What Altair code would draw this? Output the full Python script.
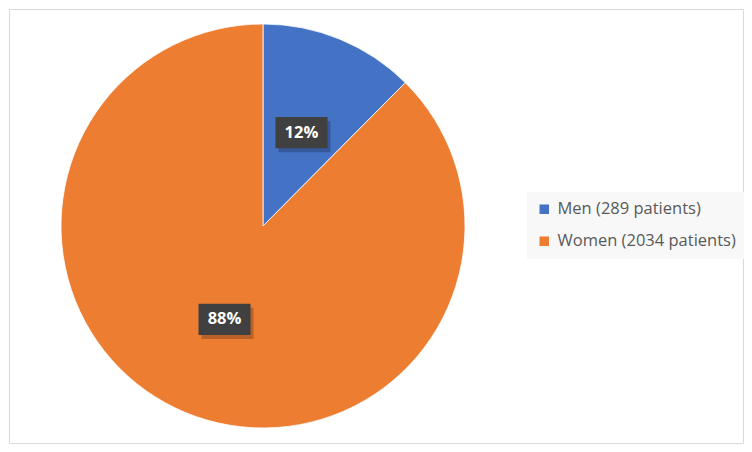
import altair as alt
import pandas as pd

categories = ["Men (289 patients)", "Women (2034 patients)"]
patients = [289, 2034]
slice_order = [0, 1]
colors = ["#4472C4", "#ED7D31"]

df = pd.DataFrame({"category": categories, "patients": patients, "order": slice_order})

# plot origin sits at page (9, 9): 8px margin + 1px padding
CX, CY, R = 254, 217, 202
LR = 101
BOX = "M-1,-0.6 L1,-0.6 L1,0.6 L-1,0.6 Z"

base = alt.Chart(df)

pie = base.mark_arc(outerRadius=R, stroke="white", strokeWidth=0.8).encode(
    theta=alt.Theta("patients:Q", stack=True),
    color=alt.Color(
        "category:N",
        scale=alt.Scale(domain=categories, range=colors),
        legend=alt.Legend(
            orient="none",
            legendX=518,
            legendY=183,
            title=None,
            fillColor="#F8F8F8",
            padding=9,
            symbolType="square",
            symbolSize=90,
            symbolStrokeWidth=0,
            labelFontSize=16.5,
            labelColor="#595959",
            labelFont="Open Sans",
            rowPadding=15,
            labelOffset=5,
            labelLimit=400,
        ),
    ),
    order=alt.Order("order:Q"),
    x=alt.value(CX),
    y=alt.value(CY),
)

lab = base.transform_joinaggregate(total="sum(patients)").transform_calculate(
    frac="datum.patients / datum.total"
).transform_window(
    cum="sum(frac)", sort=[alt.SortField("order")], frame=[None, 0]
).transform_calculate(
    mid="(datum.cum - datum.frac / 2) * 2 * PI",
    lx=f"{CX} + {LR} * sin(datum.mid)",
    ly=f"{CY} - {LR} * cos(datum.mid)",
)

shadow = lab.mark_point(shape=BOX, filled=True, size=2704, color="black", opacity=0.22, xOffset=3, yOffset=4).encode(
    x=alt.X("lx:Q", scale=None),
    y=alt.Y("ly:Q", scale=None),
)

boxes = lab.mark_point(shape=BOX, filled=True, size=2704, color="#404040", opacity=1).encode(
    x=alt.X("lx:Q", scale=None),
    y=alt.Y("ly:Q", scale=None),
)

texts = lab.mark_text(font="Open Sans", fontSize=16.5, fontWeight="bold", color="white", baseline="middle", align="center").encode(
    x=alt.X("lx:Q", scale=None),
    y=alt.Y("ly:Q", scale=None),
    text=alt.Text("frac:Q", format=".0%"),
)

chart = alt.layer(pie, shadow, boxes, texts).properties(
    width=734, height=434, padding=1, autosize="none"
).configure_view(stroke="#D9D9D9", strokeWidth=1)

chart.save("out.html", embed_options={"renderer": "svg", "actions": False})
